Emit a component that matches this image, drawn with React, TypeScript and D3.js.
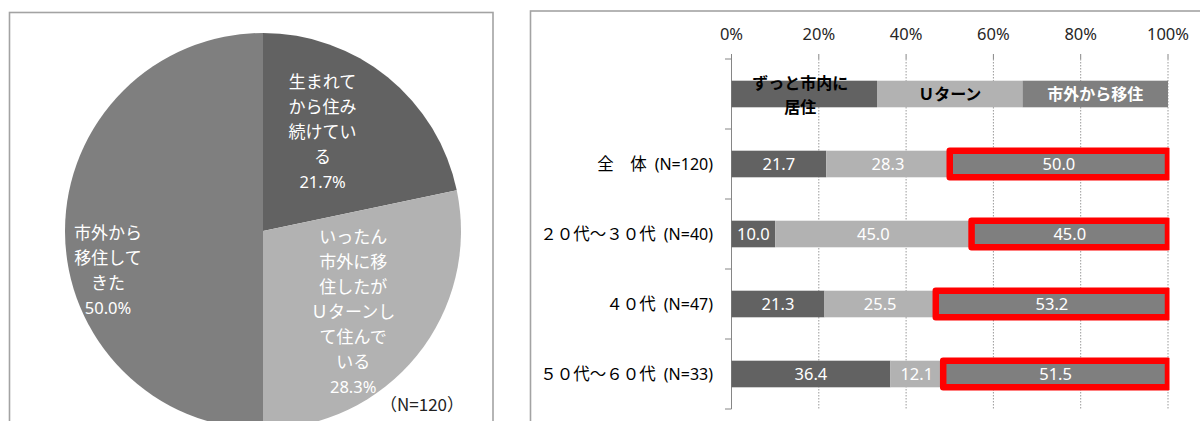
import * as d3 from "d3";

// pie: where respondents have lived
const pieValues = [21.7, 28.3, 50.0];
const pieLines = [
  ["生まれて", "から住み", "続けてい", "る"],
  ["いったん", "市外に移", "住したが", "Ｕターンし", "て住んで", "いる"],
  ["市外から", "移住して", "きた"],
];
const pieColors = ["#626262", "#b2b2b2", "#7f7f7f"];
const pieNote = "（N=120）";

// bar: breakdown by age group
const categories = ["全　体", "２０代～３０代", "４０代", "５０代～６０代"];
const sampleSizes = ["(N=120)", "(N=40)", "(N=47)", "(N=33)"];
const stayed = [21.7, 10.0, 21.3, 36.4];
const uturn = [28.3, 45.0, 25.5, 12.1];
const movedIn = [50.0, 45.0, 53.2, 51.5];
const seriesKeys = ["stayed", "uturn", "movedIn"];
const seriesNames = [["ずっと市内に", "居住"], ["Ｕターン"], ["市外から移住"]];
const legendShares = [1, 1, 1];
const tickValues = [0, 20, 40, 60, 80, 100];

const WIDTH = 1200;
const HEIGHT = 421;
const LATIN = "'Noto Sans', 'Noto Sans CJK JP', sans-serif";
const CJK = "'Noto Sans CJK JP', sans-serif";

// label nudges from the arc centroid, per slice
const PIE_LABEL_NUDGE = [
  [-16, -6],
  [-3, 5],
  [-35, 39],
];

function PieChart() {
  const cx = 263;
  const cy = 231;
  const radius = 198;
  const pie = d3.pie<number>().sort(null).value((d) => d);
  const arcs = pie(pieValues);
  const arc = d3.arc<d3.PieArcDatum<number>>().innerRadius(0).outerRadius(radius);
  const labelArc = d3.arc<d3.PieArcDatum<number>>().innerRadius(120).outerRadius(120);
  const lineHeight = 25;

  return (
    <g>
      <rect x="9.5" y="12.5" width="483.5" height="440" fill="#fff" stroke="#a3a3a3" strokeWidth="1.6" />
      <g transform={`translate(${cx} ${cy})`}>
        {arcs.map((a, i) => (
          <path key={i} d={arc(a) ?? undefined} fill={pieColors[i]} />
        ))}
        {arcs.map((a, i) => {
          const [lx, ly] = labelArc.centroid(a);
          const lines = [...pieLines[i], `${pieValues[i].toFixed(1)}%`];
          const ax = lx + PIE_LABEL_NUDGE[i][0];
          const ay = ly + PIE_LABEL_NUDGE[i][1];
          const first = ay - ((lines.length - 1) * lineHeight) / 2 + 6;
          return (
            <text key={i} textAnchor="middle" fill="#fff" fontSize="17" fontFamily={LATIN}>
              {lines.map((line, j) => (
                <tspan key={j} x={ax} y={first + j * lineHeight} fontSize={j === lines.length - 1 ? 16.5 : 17}>
                  {line}
                </tspan>
              ))}
            </text>
          );
        })}
      </g>
      <text x="464" y="411" textAnchor="end" fontSize="17" fontFamily={CJK} fill="#222">
        {pieNote}
      </text>
    </g>
  );
}

function BarChart() {
  const x = d3.scaleLinear().domain([0, 100]).range([731.5, 1168]);
  const rows = ["legend", ...categories];
  const y = d3
    .scaleBand<string>()
    .domain(rows)
    .range([59, 409])
    .paddingInner(0.62)
    .paddingOuter(0.31);
  const step = y.step();
  const top = 59;
  const bottom = 409;

  const table = categories.map((c, i) => ({ category: c, stayed: stayed[i], uturn: uturn[i], movedIn: movedIn[i] }));
  const stack = d3.stack<any>().keys(seriesKeys);
  const layers = stack(table);

  const legendTotal = d3.sum(legendShares);
  const legendEnds = Array.from(d3.cumsum(legendShares), (v) => (v / legendTotal) * 100);
  const legendSpans = legendEnds.map((end, i) => [i === 0 ? 0 : legendEnds[i - 1], end]);
  const legendY = y("legend") ?? 0;
  const bw = y.bandwidth();

  return (
    <g>
      <rect x="530.5" y="11" width="700" height="440" fill="#fff" stroke="#a3a3a3" strokeWidth="1.6" />
      <defs>
        <clipPath id="plot-clip">
          <rect x={x(0)} y={top - 10} width={x(100) - x(0) + 1.5} height={bottom - top + 20} />
        </clipPath>
      </defs>
      {/* gridlines */}
      {tickValues.slice(1).map((t) => (
        <line key={t} x1={x(t)} x2={x(t)} y1={top} y2={bottom} stroke="#9a9a9a" strokeWidth="1" strokeDasharray="1.5 1.5" />
      ))}
      {tickValues.map((t) => (
        <g key={t}>
          <line x1={x(t)} x2={x(t)} y1={top - 5} y2={top} stroke="#868686" />
          <text x={x(t)} y="40" textAnchor="middle" fontSize="16.5" fontFamily={LATIN} fill="#262626">
            {t}%
          </text>
        </g>
      ))}
      {/* category axis */}
      <line x1={x(0)} x2={x(0)} y1={top} y2={bottom} stroke="#868686" />
      {d3.range(rows.length + 1).map((i) => (
        <line key={i} x1={x(0) - 6.5} x2={x(0)} y1={top + i * step} y2={top + i * step} stroke="#868686" />
      ))}

      {/* legend row */}
      {legendSpans.map(([a, b], i) => (
        <rect key={i} x={x(a)} y={legendY} width={x(b) - x(a)} height={bw} fill={pieColors[i]} />
      ))}
      {legendSpans.map(([a, b], i) => {
        const lines = seriesNames[i];
        const cxl = (x(a) + x(b)) / 2 - (i === 0 ? 4 : 0);
        const cyl = legendY + bw / 2 + (lines.length > 1 ? 1 : 0);
        const first = cyl - ((lines.length - 1) * 24) / 2 + 6;
        return (
          <text key={i} textAnchor="middle" fontSize="16" fontWeight="700" fontFamily={CJK} fill={i === 2 ? "#fff" : "#000"}>
            {lines.map((line, j) => (
              <tspan key={j} x={cxl} y={first + j * 24}>
                {line}
              </tspan>
            ))}
          </text>
        );
      })}

      {/* stacked bars */}
      {layers.map((layer, li) =>
        layer.map((seg, ci) => {
          const yy = y(categories[ci]) ?? 0;
          return (
            <rect key={`${li}-${ci}`} x={x(seg[0])} y={yy} width={x(seg[1]) - x(seg[0])} height={bw} fill={pieColors[li]} />
          );
        })
      )}
      {/* highlight of moved-in segment */}
      <g clipPath="url(#plot-clip)">
        {layers[2].map((seg, ci) => {
          const yy = y(categories[ci]) ?? 0;
          return (
            <rect
              key={ci}
              x={x(seg[0])}
              y={yy}
              width={x(seg[1]) - x(seg[0])}
              height={bw}
              fill="none"
              stroke="#ff0000"
              strokeWidth="6.5"
              strokeLinejoin="round"
            />
          );
        })}
      </g>
      {layers.map((layer, li) =>
        layer.map((seg, ci) => {
          const yy = y(categories[ci]) ?? 0;
          return (
            <text
              key={`${li}-${ci}`}
              x={(x(seg[0]) + x(seg[1])) / 2}
              y={yy + bw / 2 + 6}
              textAnchor="middle"
              fontSize="16.5"
              fontFamily={LATIN}
              fill="#fff"
            >
              {(seg[1] - seg[0]).toFixed(1)}
            </text>
          );
        })
      )}

      {/* category labels */}
      {categories.map((c, i) => {
        const yy = (y(c) ?? 0) + bw / 2 + 6;
        return (
          <text key={c} x="713" y={yy} textAnchor="end" fill="#000" fontFamily={CJK}>
            <tspan fontSize="16.5">{c}</tspan>
            <tspan fontSize="16" fontFamily={LATIN} dx="8">
              {sampleSizes[i]}
            </tspan>
          </text>
        );
      })}
    </g>
  );
}

export default function App() {
  return (
    <svg
      width={WIDTH}
      height={HEIGHT}
      viewBox={`0 0 ${WIDTH} ${HEIGHT}`}
      style={{ position: "absolute", left: 0, top: 0, background: "#fff" }}
    >
      <rect width={WIDTH} height={HEIGHT} fill="#fff" />
      <PieChart />
      <BarChart />
    </svg>
  );
}
